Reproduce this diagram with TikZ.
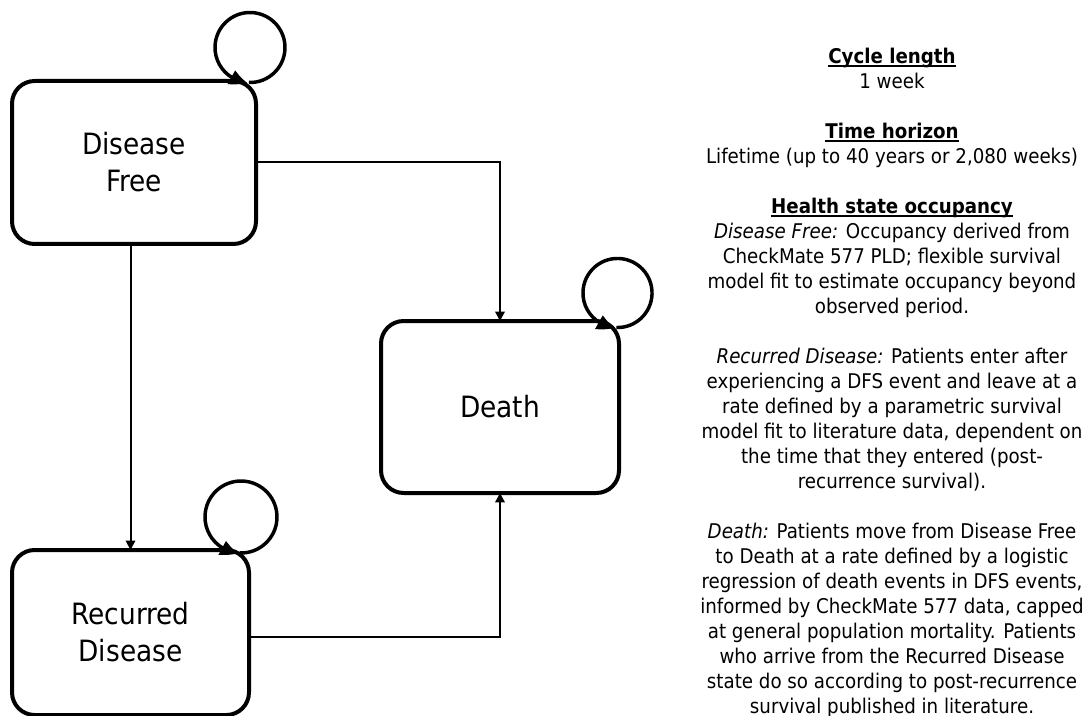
\documentclass[tikz,border=0pt]{standalone}
\usepackage{fontspec}
\setmainfont{DejaVuSansCondensed}[Extension=.ttf, BoldFont=DejaVuSansCondensed-Bold, ItalicFont=DejaVuSansCondensed-Oblique, BoldItalicFont=DejaVuSansCondensed-BoldOblique]
\usetikzlibrary{arrows.meta,bending}
\newcommand\hdr[1]{\setbox0\hbox{\bfseries #1}\rlap{\rule[-2.6pt]{\wd0}{1.1pt}}\box0}
\begin{document}
\begin{tikzpicture}[x=0.75pt,y=-0.75pt,
  state/.style={draw, line width=3pt, rounded corners=17pt, align=center,
    font=\fontsize{22pt}{27.75pt}\selectfont, inner sep=0pt, outer sep=0pt},
  conn/.style={line width=1.5pt, -{Triangle[length=7pt,width=7pt]}},
  selfloop/.style={line width=2.6pt, -{Triangle[length=13pt,width=11pt,bend]}},
  info/.style={align=center, font=\fontsize{15.2pt}{18.75pt}\selectfont, inner sep=0pt, anchor=north}]
\useasboundingbox (0,0) rectangle (1087,716);
\node[state, minimum width=183pt, minimum height=122.25pt] (df) at (134,162.5) {Disease\\Free};
\node[state, minimum width=177.75pt, minimum height=123.75pt] (rd) at (130.5,632.5) {Recurred\\Disease};
\node[state, minimum width=178.5pt, minimum height=129pt] (death) at (500,407) {Death};
% self loops
\coordinate (dfc) at ([shift={(-6,-33.5)}]df.north east);
\coordinate (dec) at ([shift={(-1.5,-28)}]death.north east);
\coordinate (rdc) at ([shift={(-8,-33)}]rd.north east);
\draw[selfloop] ([shift={(-92:26.25pt)}]dfc) arc[start angle=-92, end angle=266, radius=26.25pt];
\draw[selfloop] ([shift={(-92:25.9pt)}]dec) arc[start angle=-92, end angle=266, radius=25.9pt];
\draw[selfloop] ([shift={(-92:27pt)}]rdc) arc[start angle=-92, end angle=266, radius=27pt];
% transitions
\draw[conn] (df.south -| rd.north) -- (rd.north);
\draw[conn] (df.east) -| (death.north);
\draw[conn] ([yshift=-3.4pt]rd.east) -| (death.south);
% info text
\node[info] (txt) at (892,47.5) {%
\hdr{Cycle length}\\
1 week\\[18.75pt]
\hdr{Time horizon}\\
Lifetime (up to 40 years or 2,080 weeks)\\[18.75pt]
\hdr{Health state occupancy}\\
\textit{Disease Free:} Occupancy derived from\\
CheckMate 577 PLD; flexible survival\\
model fit to estimate occupancy beyond\\
observed period.\\[18.75pt]
\textit{Recurred Disease:} Patients enter after\\
experiencing a DFS event and leave at a\\
rate defined by a parametric survival\\
model fit to literature data, dependent on\\
the time that they entered (post-\\
recurrence survival).\\[18.75pt]
\textit{Death:} Patients move from Disease Free\\
to Death at a rate defined by a logistic\\
regression of death events in DFS events,\\
informed by CheckMate 577 data, capped\\
at general population mortality. Patients\\
who arrive from the Recurred Disease\\
state do so according to post-recurrence\\
survival published in literature.};
\end{tikzpicture}
\end{document}
